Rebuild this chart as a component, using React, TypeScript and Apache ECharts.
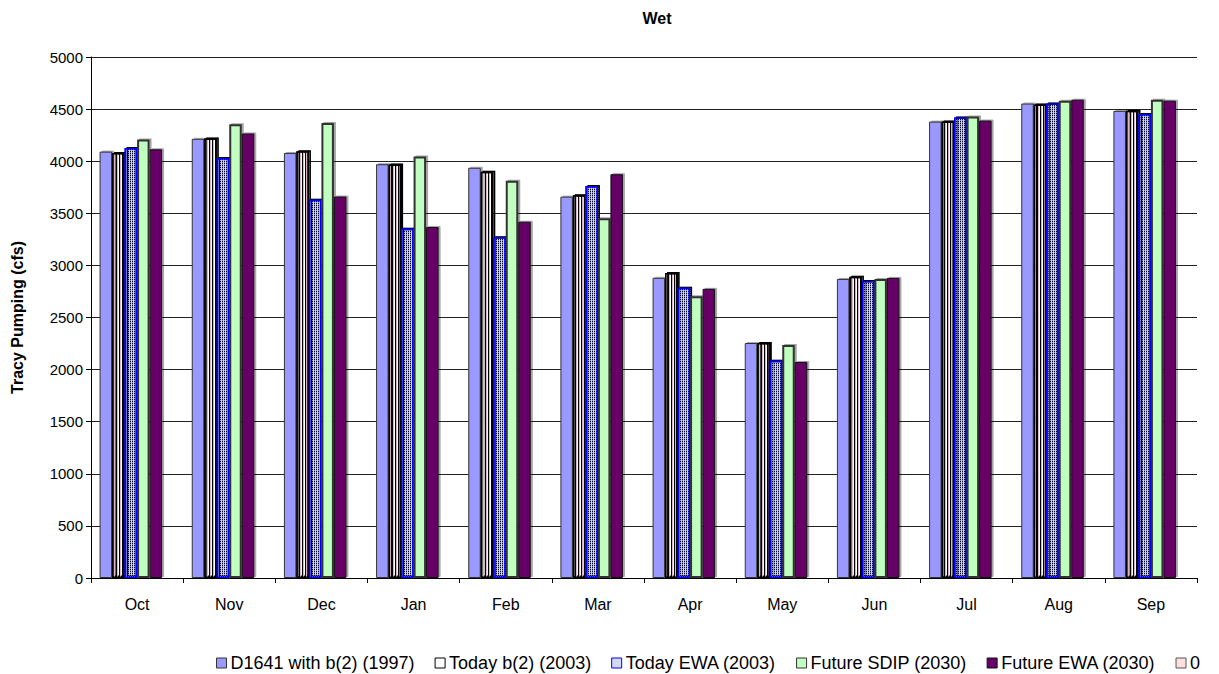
import React, { useEffect, useRef } from "react";
import * as echarts from "echarts";

const months = ["Oct", "Nov", "Dec", "Jan", "Feb", "Mar", "Apr", "May", "Jun", "Jul", "Aug", "Sep"];
const d1641 = [4092, 4215, 4079, 3971, 3937, 3660, 2881, 2255, 2870, 4380, 4553, 4483];
const todayB2 = [4079, 4218, 4095, 3968, 3899, 3673, 2926, 2255, 2890, 4382, 4543, 4483];
const todayEWA = [4126, 4031, 3630, 3352, 3269, 3762, 2785, 2085, 2850, 4420, 4553, 4453];
const futureSDIP = [4209, 4354, 4367, 4044, 3812, 3452, 2705, 2237, 2870, 4430, 4581, 4590];
const futureEWA = [4114, 4266, 3661, 3368, 3419, 3875, 2775, 2073, 2880, 4390, 4590, 4581];
const zeroSeries = [0, 0, 0, 0, 0, 0, 0, 0, 0, 0, 0, 0];
const seriesNames = [
  "D1641 with b(2) (1997)",
  "Today b(2) (2003)",
  "Today EWA (2003)",
  "Future SDIP (2030)",
  "Future EWA (2030)",
  "0",
];
const yTicks = { min: 0, max: 5000, interval: 500 };

export default function App() {
  const ref = useRef<HTMLDivElement>(null);
  useEffect(() => {
    if (!ref.current) return;
    const chart = echarts.init(ref.current, undefined, { renderer: "svg" });
    const shadow = { shadowColor: "rgba(0,0,0,0.35)", shadowOffsetX: 2, shadowOffsetY: -1, shadowBlur: 0 };
    const mk = (name: string, data: number[], itemStyle: any) => ({
      name,
      type: "bar",
      data,
      barWidth: 12.5,
      barGap: "0%",
      itemStyle,
    });
    const legendBorders = ["#333333", "#000000", "#0000FF", "#333333", "#111111", "#555555"];
    chart.setOption({
      animation: false,
      backgroundColor: "#ffffff",
      textStyle: { fontFamily: "Liberation Sans, Arial, sans-serif" },
      title: {
        text: "Wet",
        left: 652,
        textAlign: "center",
        top: 5,
        textStyle: { fontSize: 16, fontWeight: "bold", color: "#000" },
      },
      legend: {
        top: 649,
        left: 211,
        icon: "rect",
        itemWidth: 10,
        itemHeight: 10,
        itemGap: 20,
        textStyle: { fontSize: 18, color: "#000", padding: [0, 0, 0, -1] },
        data: seriesNames.map((n, i) => ({
          name: n,
          itemStyle: { borderColor: legendBorders[i], borderWidth: 1, shadowBlur: 0, shadowOffsetX: 0, shadowOffsetY: 0, decal: "none" },
        })),
      },
      grid: { left: 91, right: 22, top: 57, bottom: 96 },
      xAxis: {
        type: "category",
        data: months,
        axisLine: { lineStyle: { color: "#000" } },
        axisTick: { show: true, alignWithLabel: false, lineStyle: { color: "#000" }, length: 5 },
        axisLabel: { fontSize: 16, color: "#000", margin: 18 },
      },
      yAxis: {
        type: "value",
        min: yTicks.min,
        max: yTicks.max,
        interval: yTicks.interval,
        name: "Tracy Pumping (cfs)",
        nameLocation: "middle",
        nameGap: 66,
        nameTextStyle: { fontSize: 16, fontWeight: "bold", color: "#000" },
        axisLine: { show: true, lineStyle: { color: "#000" } },
        axisTick: { show: true, length: 5, lineStyle: { color: "#000" } },
        axisLabel: { fontSize: 15, color: "#000", margin: 8, formatter: (v: number) => String(v) },
        splitLine: { lineStyle: { color: "#222", width: 1 } },
      },
      series: [
        mk(seriesNames[0], d1641, { color: "#9999FF", borderColor: "#333333", borderWidth: 1, ...shadow }),
        mk(seriesNames[1], todayB2, {
          color: "#ffffff",
          borderColor: "#000000",
          borderWidth: 1.5,
          decal: { symbol: "rect", color: "#dcb4c4", dashArrayX: [1, 2], dashArrayY: [10, 0], symbolSize: 1, rotation: 0 },
          ...shadow,
        }),
        mk(seriesNames[2], todayEWA, {
          color: "#d4d8f8",
          borderColor: "#0000FF",
          borderWidth: 1.5,
          decal: { symbol: "rect", color: "#8a92ec", dashArrayX: [1, 1], dashArrayY: [1, 1], symbolSize: 1, rotation: 0 },
          ...shadow,
        }),
        mk(seriesNames[3], futureSDIP, { color: "#C0FFC0", borderColor: "#333333", borderWidth: 2, ...shadow }),
        mk(seriesNames[4], futureEWA, { color: "#660066", borderColor: "#111111", borderWidth: 1, ...shadow }),
        mk(seriesNames[5], zeroSeries, { color: "#FFE0E0", borderColor: "#555555", borderWidth: 0 }),
      ],
    });
    return () => chart.dispose();
  }, []);
  return <div ref={ref} style={{ width: 1219, height: 674, position: "absolute", left: 0, top: 0 }} />;
}
